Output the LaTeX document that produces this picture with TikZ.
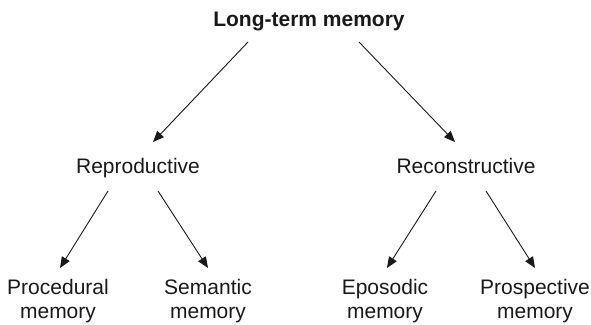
\documentclass[tikz,border=0pt]{standalone}
\usepackage{fontspec}
\setmainfont{Liberation Sans}
\usetikzlibrary{arrows.meta}
\begin{document}
\begin{tikzpicture}[x=1pt,y=-1pt,
  lbl/.style={inner sep=0pt,font=\fontsize{21}{24}\selectfont,text=black!90,align=center},
  arr/.style={draw=black!90,line width=0.9pt,-{Triangle[length=11pt,width=9pt]}}]
\path[use as bounding box,fill=white] (0,0) rectangle (591,324);
\node[lbl,anchor=base,font=\fontsize{21}{24}\selectfont\bfseries] (ltm) at (309,26) {Long-term memory};
\node[lbl,anchor=base] (rep) at (138,173) {Reproductive};
\node[lbl,anchor=base] (rec) at (466,173) {Reconstructive};
\node[lbl] (proc) at (58,301.5) {Procedural\\memory};
\node[lbl] (sem) at (208,301.5) {Semantic\\memory};
\node[lbl] (epi) at (385,301.5) {Eposodic\\memory};
\node[lbl] (pros) at (535,301.5) {Prospective\\memory};
\coordinate (ltmL) at (248,42);
\coordinate (ltmR) at (359,42);
\coordinate (repT) at (153,142);
\coordinate (recT) at (455,142);
\coordinate (repL) at (108,191);
\coordinate (repR) at (158,191);
\coordinate (recL) at (436,191);
\coordinate (recR) at (486,191);
\coordinate (procT) at (60,268);
\coordinate (semT) at (208,268);
\coordinate (epiT) at (387,268);
\coordinate (prosT) at (535,268);
\draw[arr] (ltmL) -- (repT);
\draw[arr] (ltmR) -- (recT);
\draw[arr] (repL) -- (procT);
\draw[arr] (repR) -- (semT);
\draw[arr] (recL) -- (epiT);
\draw[arr] (recR) -- (prosT);
\end{tikzpicture}
\end{document}
